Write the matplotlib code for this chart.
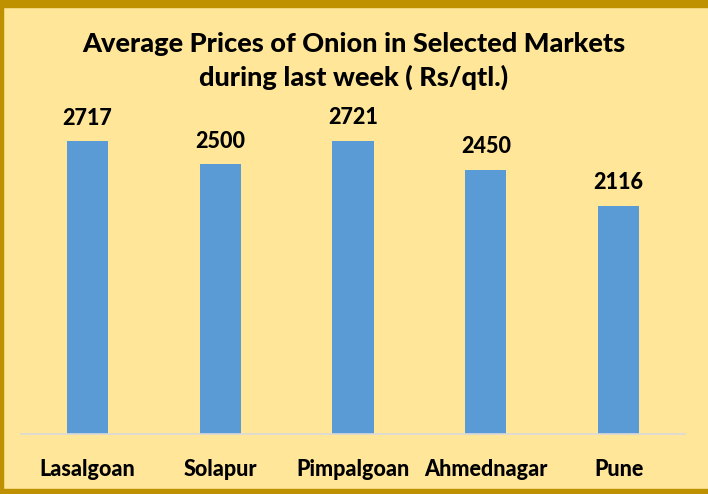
import matplotlib.pyplot as plt
from matplotlib.patches import Rectangle

markets = ["Lasalgoan", "Solapur", "Pimpalgoan", "Ahmednagar", "Pune"]
prices = [2717, 2500, 2721, 2450, 2116]

bg = "#FFE699"
bar_color = "#5B9BD5"
border = "#BF9000"

fig = plt.figure(figsize=(7.08, 4.94), dpi=100)
fig.patch.set_facecolor(bg)

ax = fig.add_axes([21 / 708, 1 - 434 / 494, 664 / 708, 323.5 / 494])
ax.set_facecolor(bg)
ax.bar(range(len(markets)), prices, width=0.31, color=bar_color)
ax.set_xlim(-0.5, 4.5)
ax.set_ylim(0, 3000)

for s in ["top", "right", "left"]:
    ax.spines[s].set_visible(False)
ax.spines["bottom"].set_color("#D9D9D9")
ax.spines["bottom"].set_linewidth(1.2)
ax.set_yticks([])
ax.set_xticks(range(len(markets)))
ax.set_xticklabels(markets, fontfamily="Lato", fontweight=900, fontsize=15.5)
ax.tick_params(axis="x", length=0, pad=18)

for i, v in enumerate(prices):
    ax.annotate(str(v), (i, v), xytext=(0, 9), textcoords="offset points",
                ha="center", va="bottom", fontfamily="Lato",
                fontweight=900, fontsize=15.5)

fig.text(0.5, 1 - 61 / 494, "Average Prices of Onion in Selected Markets\nduring last week ( Rs/qtl.)",
         ha="center", va="center", fontfamily="Lato", fontweight=900,
         fontsize=19.5, linespacing=1.38)

# gold frame around the chart
fig.patches.append(Rectangle((0, 1 - 7 / 494), 1, 7 / 494, transform=fig.transFigure,
                             color=border, zorder=10))
fig.patches.append(Rectangle((0, 0), 1, 5 / 494, transform=fig.transFigure,
                             color=border, zorder=10))
fig.patches.append(Rectangle((0, 0), 3 / 708, 1, transform=fig.transFigure,
                             color=border, zorder=10))

fig.savefig("out.png", dpi=100, facecolor=bg)
